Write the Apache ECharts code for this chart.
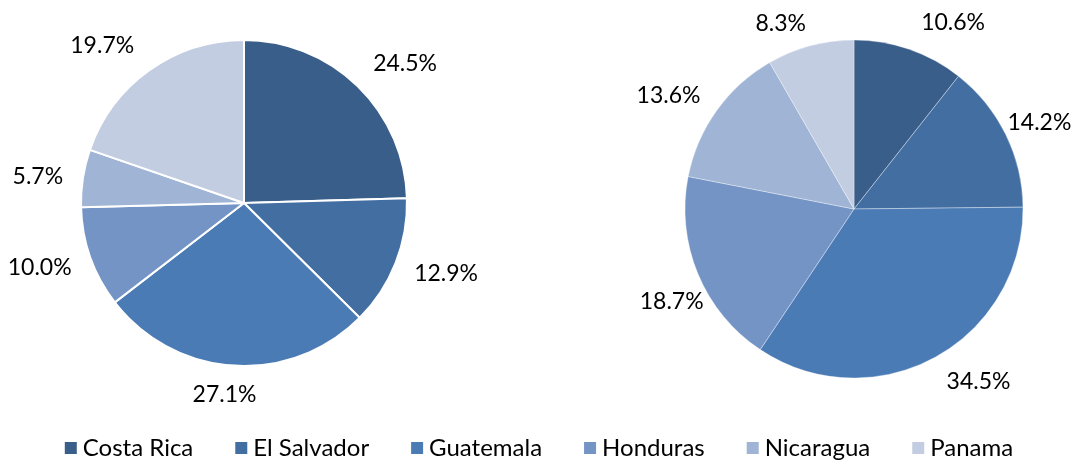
<!DOCTYPE html>
<html>
<head>
<meta charset="utf-8">
<script src="https://cdn.jsdelivr.net/npm/echarts@6/dist/echarts.min.js"></script>
<style>
html,body{margin:0;padding:0;background:#fff;}
#chart{width:1076px;height:462px;}
</style>
</head>
<body>
<div id="chart"></div>
<script>
const categories = ["Costa Rica", "El Salvador", "Guatemala", "Honduras", "Nicaragua", "Panama"];
const leftValues = [24.5, 12.9, 27.1, 10.0, 5.7, 19.7];
const rightValues = [10.6, 14.2, 34.5, 18.7, 13.6, 8.3];
const colors = ["#3A5E8A", "#426EA2", "#4A7BB5", "#7394C5", "#A0B4D5", "#C2CDE2"];
// label nudges (style only), per slice
const leftLabelNudge = [[-4, -7], [-6, 3], [29, 8], [6, 3], [6, 2], [2, -8]];
const rightLabelNudge = [[0, -7], [-22, -2], [-3, 6], [30, 20], [6, -3], [6, -2]];

const FONT = "Lato";
function toData(vals, nudges) {
  return categories.map((c, i) => ({ name: c, value: vals[i], label: { offset: nudges[i] } }));
}
const labelCommon = {
  show: true,
  position: 'outside',
  formatter: p => p.value.toFixed(1) + '%',
  fontFamily: FONT,
  fontSize: 23,
  width: 80,
  overflow: 'none',
  color: '#000'
};
const chart = echarts.init(document.getElementById('chart'), null, {renderer: 'canvas'});
chart.setOption({
  animation: false,
  color: colors,
  legend: {
    top: 431,
    left: 'center',
    itemWidth: 14,
    itemHeight: 14,
    itemGap: 40,
    icon: 'rect',
    textStyle: { fontFamily: FONT, fontSize: 24, color: '#000' },
    data: categories
  },
  series: [
    {
      type: 'pie',
      center: [244, 203],
      radius: 163,
      startAngle: 90,
      clockwise: true,
      avoidLabelOverlap: false,
      data: toData(leftValues, leftLabelNudge),
      label: labelCommon,
      labelLine: { show: false, length: 21, length2: 0 },
      itemStyle: { borderColor: '#fff', borderWidth: 2 }
    },
    {
      type: 'pie',
      center: [854, 209],
      radius: 169,
      startAngle: 90,
      clockwise: true,
      avoidLabelOverlap: false,
      data: toData(rightValues, rightLabelNudge),
      label: labelCommon,
      labelLine: { show: false, length: 21, length2: 0 },
      itemStyle: { borderColor: 'rgba(255,255,255,0.5)', borderWidth: 0.7 }
    }
  ]
});
</script>
</body>
</html>
